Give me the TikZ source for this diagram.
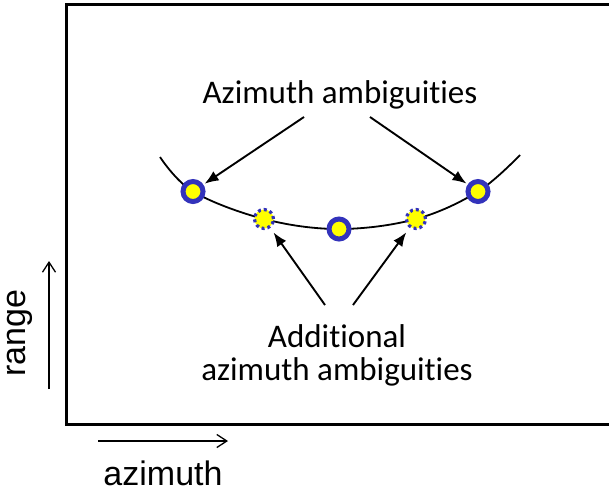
\documentclass[tikz,border=0pt]{standalone}
\usepackage{fontspec}
\setmainfont{Carlito}[Ligatures=NoCommon]
\newfontfamily\arialfont{Liberation Sans}
\usetikzlibrary{arrows.meta}
\definecolor{ringblue}{RGB}{51,51,187}
\definecolor{dotyellow}{RGB}{255,255,0}
\tikzset{
  amb/.style={circle,fill=dotyellow,draw=ringblue,line width=5pt,minimum size=20pt,inner sep=0pt,outer sep=0pt},
  extra/.style={circle,fill=dotyellow,draw=ringblue,line width=3.2pt,dash pattern=on 3pt off 3pt,minimum size=19pt,inner sep=0pt,outer sep=0pt},
  lbl/.style={font=\fontsize{33}{33}\selectfont,align=center,inner sep=0pt},
  axlbl/.style={font=\arialfont\fontsize{34}{34}\selectfont,inner sep=0pt},
  ptr/.style={line width=1.9pt,-{Latex[length=14pt,width=11pt]}},
  axarrow/.style={line width=1.3pt,-{Straight Barb[length=10pt,width=13pt]}}
}
\begin{document}
\begin{tikzpicture}[x=1pt,y=-1pt]
\useasboundingbox (0,0) rectangle (609,493);
\fill[white] (0,0) rectangle (609,493);
% frame
\draw[line width=3pt] (611,4) -- (66,4) -- (66,424) -- (611,424);
% curve
\draw[line width=1.8pt] plot[smooth,tension=0.6] coordinates {(160,157) (193,191.5) (264,219) (339,229) (416,219) (478,191.5) (520,155)};
% circles
\node[amb] (c1) at (193,191.5) {};
\node[amb] (c2) at (478,191.5) {};
\node[amb] (c3) at (339,229) {};
\node[extra] (d1) at (264,219) {};
\node[extra] (d2) at (416,219) {};
% labels
\node[lbl,anchor=base] (top) at (340,103) {Azimuth ambiguities};
\node[lbl,anchor=base] (bot) at (337,380) {Additional\\[-0.5pt]azimuth ambiguities};
\coordinate (s1) at (304,117);
\coordinate (s2) at (370,117);
\coordinate (s3) at (325,305);
\coordinate (s4) at (353,305);
\draw[ptr,shorten >=4pt] (s1) -- (c1);
\draw[ptr,shorten >=4pt] (s2) -- (c2);
\draw[ptr,shorten >=7pt] (s3) -- (d1);
\draw[ptr,shorten >=7pt] (s4) -- (d2);
% axes
\coordinate (ra) at (49,389);
\coordinate (rb) at (49,261);
\draw[axarrow] (ra) -- (rb);
\coordinate (aa) at (98,441);
\coordinate (ab) at (228,441);
\draw[axarrow] (aa) -- (ab);
\node[axlbl,rotate=90] (range) at (20,333) {range};
\node[axlbl,anchor=base] (azi) at (163,485) {azimuth};
\end{tikzpicture}
\end{document}
